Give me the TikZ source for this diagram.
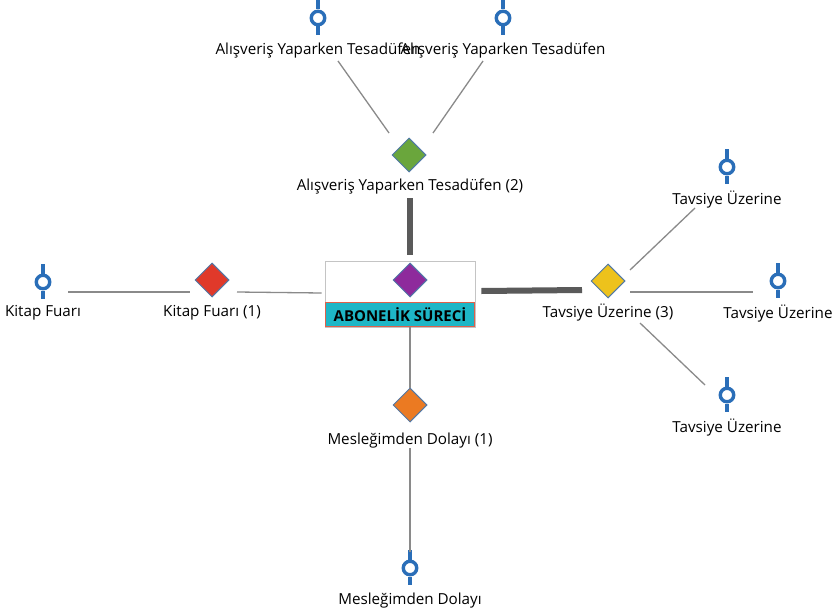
\documentclass[tikz,border=0pt]{standalone}
\usepackage{fontspec}
\setmainfont{Open Sans}
\usetikzlibrary{shapes.geometric,calc}
\definecolor{pinblue}{HTML}{2A6EB8}
\definecolor{linegray}{HTML}{8A8A8A}
\definecolor{thickgray}{HTML}{5A5A5A}
\definecolor{dborder}{HTML}{4F78A8}
\definecolor{cgreen}{HTML}{6AA63C}
\definecolor{cred}{HTML}{E0392A}
\definecolor{cyellow}{HTML}{EDC21C}
\definecolor{corange}{HTML}{EB7A22}
\definecolor{cpurple}{HTML}{8E2A9C}
\definecolor{cteal}{HTML}{1EB6C6}
\definecolor{tealborder}{HTML}{E0604A}
\definecolor{boxborder}{HTML}{C4C4C4}
\tikzset{
  dmd/.style={diamond, aspect=1, draw=dborder, line width=1pt, minimum width=34pt, minimum height=34pt, inner sep=0pt},
  lbl/.style={font=\fontsize{15.2}{17}\selectfont, inner sep=0pt, anchor=center},
  pinring/.style={circle, draw=pinblue, line width=3.4pt, minimum size=13.5pt, inner sep=0pt},
  pinstem/.style={draw=pinblue, line width=3.4pt},
  conn/.style={draw=linegray, line width=1.3pt},
  thickconn/.style={draw=thickgray, line width=6pt}
}
\newcommand\pinnode[3]{%
  \node[pinring] (#1) at (#2,#3) {};
  \draw[pinstem] ($(#1)+(0,-18)$) -- ($(#1)+(0,-8.5)$) ($(#1)+(0,8.5)$) -- ($(#1)+(0,17)$);}
\begin{document}
\begin{tikzpicture}[x=1pt,y=-1pt]
\useasboundingbox[fill=white] (0,0) rectangle (834,615);

% central box
\node[draw=boxborder, fill=white, line width=0.8pt, minimum width=150pt, minimum height=66pt, inner sep=0pt] (box) at (400,294) {};
\node[dmd, fill=cpurple] (pd) at (410,280) {};
\node[fill=cteal, draw=tealborder, line width=1.1pt, minimum width=149pt, minimum height=24pt, inner sep=0pt, font=\bfseries\fontsize{15}{17}\selectfont] (abon) at (400,314.5) {ABONELİK SÜRECİ};

% diamonds
\node[dmd, fill=cgreen] (gd) at (409,155) {};
\node[lbl] (gl) at (410,187) {Alışveriş Yaparken Tesadüfen (2)};
\node[dmd, fill=cred] (rd) at (212,280) {};
\node[lbl] (rl) at (212,313) {Kitap Fuarı (1)};
\node[dmd, fill=cyellow] (yd) at (608,281) {};
\node[lbl] (yl) at (608,313) {Tavsiye Üzerine (3)};
\node[dmd, fill=corange] (od) at (410,405) {};
\node[lbl] (ol) at (410,441) {Mesleğimden Dolayı (1)};

% pins
\pinnode{pA}{318}{18}
\node[lbl] (lA) at (318,51) {Alışveriş Yaparken Tesadüfen};
\pinnode{pB}{503}{18}
\node[lbl] (lB) at (503,51) {Alışveriş Yaparken Tesadüfen};
\pinnode{pK}{43}{282}
\node[lbl] (lK) at (43,313) {Kitap Fuarı};
\pinnode{pT1}{727}{167}
\node[lbl] (lT1) at (727,200) {Tavsiye Üzerine};
\pinnode{pT2}{778}{281}
\node[lbl] (lT2) at (778,314) {Tavsiye Üzerine};
\pinnode{pT3}{727}{395}
\node[lbl] (lT3) at (727,428) {Tavsiye Üzerine};
\pinnode{pM}{410}{568}
\node[lbl] (lM) at (410,601) {Mesleğimden Dolayı};

% connectors
\draw[conn] ($(lA)+(20,10)$) -- ($(gd)+(-20,-22)$);
\draw[conn] ($(lB)+(-20,10)$) -- ($(gd)+(24,-22)$);
\draw[thickconn] ($(gl)+(0,11)$) -- ($(box.north)+(10,-6)$);
\draw[conn] ($(pK)+(25,10)$) -- ($(rd)+(-22,12)$);
\draw[conn] ($(rd)+(25,12)$) -- ($(box.west)+(-3,-1)$);
\draw[thickconn] ($(box.east)+(6,-3)$) -- ($(yd)+(-26,9)$);
\draw[conn] ($(yd)+(22,-11)$) -- ($(lT1)+(-32,8)$);
\draw[conn] ($(yd)+(22,11)$) -- ($(pT2)+(-25,11)$);
\draw[conn] ($(yd)+(32,42)$) -- ($(pT3)+(-22,-10)$);
\draw[conn] ($(abon.south)+(10,0)$) -- (od.north);
\draw[conn] ($(ol)+(0,7)$) -- ($(pM)+(0,-16)$);
\end{tikzpicture}
\end{document}
